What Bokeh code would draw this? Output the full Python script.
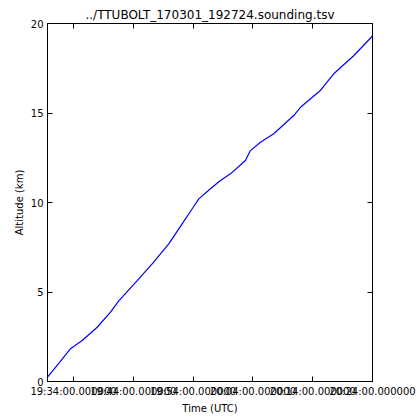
from bokeh.plotting import figure
from bokeh.models import Range1d, FixedTicker, LinearAxis
from bokeh.embed import file_html
from bokeh.resources import INLINE

# --- data (UTC time, altitude in km) ---
times = ["19:29:39", "19:31:30", "19:33:30", "19:35:27", "19:37:58", "19:40:11",
         "19:41:34", "19:44:39", "19:47:09", "19:49:56", "19:52:10", "19:53:51",
         "19:54:57", "19:56:54", "19:58:34", "20:00:15", "20:02:45", "20:03:35",
         "20:05:16", "20:07:29", "20:10:50", "20:11:57", "20:15:17", "20:17:31",
         "20:20:51", "20:24:00"]
altitude_km = [0.25, 1.0, 1.83, 2.29, 3.03, 3.87,
               4.5, 5.64, 6.57, 7.69, 8.81, 9.65,
               10.2, 10.77, 11.23, 11.6, 12.35, 12.9,
               13.37, 13.84, 14.86, 15.32, 16.26, 17.19,
               18.2, 19.3]
x_tick_labels = ["19:34:00.000000", "19:44:00.000000", "19:54:00.000000",
                 "20:04:00.000000", "20:14:00.000000", "20:24:00.000000"]
y_ticks = [0, 5, 10, 15, 20]

TITLE = "../TTUBOLT_170301_192724.sounding.tsv"
FONT = "DejaVu Sans"


def to_sec(s):
    h, m, sec = s.split(":")
    return int(h) * 3600 + int(m) * 60 + float(sec)


x = [to_sec(t) for t in times]
x_ticks = [int(round(to_sec(lab))) for lab in x_tick_labels]
overrides = {t: lab for t, lab in zip(x_ticks, x_tick_labels)}

p = figure(width=419, height=420, output_backend="svg", toolbar_location=None,
           x_range=Range1d(x[0], x[-1]), y_range=Range1d(0, 20),
           min_border_left=47, min_border_right=47, min_border_top=23,
           min_border_bottom=39)
p.title.text = TITLE
p.title.align = "center"
p.title.text_font = FONT
p.title.text_font_size = "12px"
p.title.text_font_style = "normal"
p.title.text_color = "black"
p.title.standoff = 3

p.line(x, altitude_km, line_color="blue", line_width=1.2)

p.xgrid.visible = False
p.ygrid.visible = False
p.outline_line_color = "black"
p.outline_line_alpha = 1.0
p.background_fill_color = "white"
p.border_fill_color = "white"

xticker = FixedTicker(ticks=x_ticks)
yticker = FixedTicker(ticks=y_ticks)

xa = p.xaxis[0]
xa.ticker = xticker
xa.major_label_overrides = overrides
xa.axis_label = "Time (UTC)"

ya = p.yaxis[0]
ya.ticker = yticker
ya.axis_label = "Altitude (km)"

for ax in (xa, ya):
    ax.axis_line_color = "black"
    ax.major_tick_line_color = "black"
    ax.major_tick_in = 5
    ax.major_tick_out = 0
    ax.minor_tick_line_color = None
    ax.major_label_text_font = FONT
    ax.major_label_text_font_size = "10px"
    ax.major_label_text_color = "black"
    ax.major_label_standoff = 4
    ax.axis_label_text_font = FONT
    ax.axis_label_text_font_size = "10px"
    ax.axis_label_text_font_style = "normal"
    ax.axis_label_text_color = "black"
    ax.axis_label_standoff = 3

for ticker, loc in ((xticker, "above"), (yticker, "right")):
    ax = LinearAxis(ticker=ticker)
    ax.axis_line_color = "black"
    ax.major_tick_line_color = "black"
    ax.major_tick_in = 5
    ax.major_tick_out = 0
    ax.minor_tick_line_color = None
    ax.major_label_text_font_size = "0px"
    ax.major_label_text_color = None
    ax.major_label_standoff = 0
    p.add_layout(ax, loc)

open("out.html", "w").write(file_html(p, INLINE))
